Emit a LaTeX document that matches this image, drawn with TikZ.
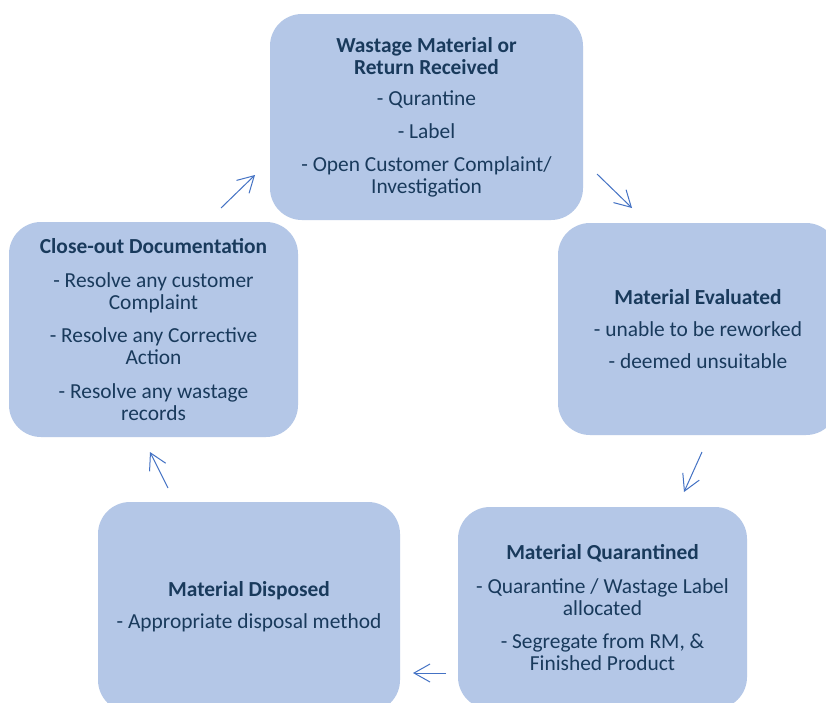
\documentclass[tikz,border=0pt]{standalone}
\usepackage{fontspec}
\setmainfont{Carlito}
\usetikzlibrary{arrows.meta}
\definecolor{boxfill}{HTML}{B4C7E7}
\definecolor{txt}{HTML}{193A5C}
\definecolor{arr}{HTML}{4472C4}
\tikzset{
  stagebox/.style={fill=boxfill, rounded corners=32pt, inner sep=0pt, align=center,
    text=txt, font=\fontsize{21.4}{22}\selectfont},
  flow/.style={draw=arr, line width=1pt, -{Straight Barb[length=16pt,width=18pt]}}
}
\begin{document}
\begin{tikzpicture}[x=1pt,y=-1pt]
\useasboundingbox (0,0) rectangle (826,702);
\fill[white] (0,0) rectangle (826,702);
\clip (0,0) rectangle (826,702);

\node[stagebox, minimum width=313pt, minimum height=206pt] (receive) at (426.5,117)
  {\textbf{Wastage Material or}\\\textbf{Return Received}\\[9pt]
   - Qurantine\\[11pt] - Label\\[11pt] - Open Customer Complaint/\\Investigation};

\node[stagebox, minimum width=280pt, minimum height=212pt] (evaluate) at (698,329)
  {\textbf{Material Evaluated}\\[10pt] - unable to be reworked\\[10pt] - deemed unsuitable};

\node[stagebox, minimum width=289pt, minimum height=202pt] (quarantine) at (602.5,608)
  {\textbf{Material Quarantined}\\[12pt] - Quarantine / Wastage Label\\allocated\\[11pt]
   - Segregate from RM, \&\\Finished Product};

\node[stagebox, minimum width=302pt, minimum height=210pt] (dispose) at (249,607)
  {\textbf{Material Disposed}\\[10pt] - Appropriate disposal method};

\node[stagebox, minimum width=289pt, minimum height=215pt] (closeout) at (153.5,329.5)
  {\textbf{Close-out Documentation}\\[12pt] - Resolve any customer\\Complaint\\[11pt]
   - Resolve any Corrective\\Action\\[12pt] - Resolve any wastage\\records};

\coordinate (a1s) at (597,174); \coordinate (a1e) at (632,208);
\coordinate (a2s) at (702,452); \coordinate (a2e) at (684,492);
\coordinate (a3s) at (446,673); \coordinate (a3e) at (413,673);
\coordinate (a4s) at (168,488); \coordinate (a4e) at (150,452);
\coordinate (a5s) at (221,208); \coordinate (a5e) at (255,175);

\draw[flow] (a1s) -- (a1e);
\draw[flow] (a2s) -- (a2e);
\draw[flow] (a3s) -- (a3e);
\draw[flow] (a4s) -- (a4e);
\draw[flow] (a5s) -- (a5e);
\end{tikzpicture}
\end{document}
